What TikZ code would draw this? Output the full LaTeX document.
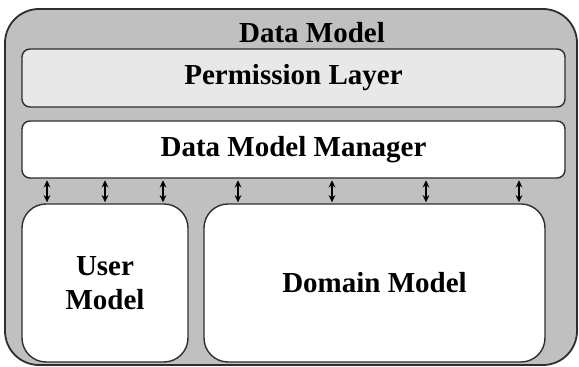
\documentclass[tikz,border=0pt]{standalone}
\usepackage{fontspec}
\setmainfont{Liberation Serif}
\usetikzlibrary{arrows.meta}
\definecolor{outergray}{HTML}{C0C0C0}
\definecolor{layergray}{HTML}{E8E8E8}
\definecolor{edgegray}{HTML}{2E2E2E}
\tikzset{
  box/.style={draw=edgegray,line width=0.7pt,fill=white,inner sep=0pt,align=center,
    font=\fontsize{14.5}{17}\selectfont\bfseries},
  link/.style={{Stealth[length=3.6pt,width=3.4pt]}-{Stealth[length=3.6pt,width=3.4pt]},line width=0.75pt,black}
}
\begin{document}
\begin{tikzpicture}[x=0.5pt,y=-0.5pt]
  \useasboundingbox (0,0) rectangle (579,367);
  % outer frame
  \node[box,fill=outergray,line width=0.9pt,rounded corners=17pt,minimum width=286pt,minimum height=178pt] (datamodel) at (291,187) {};
  \node[font=\fontsize{14.5}{17}\selectfont\bfseries] (title) at (312,33) {Data Model};
  % layers
  \node[box,fill=layergray,rounded corners=4pt,minimum width=271.5pt,minimum height=29pt] (permlayer) at (293.5,78) {Permission Layer};
  \node[box,rounded corners=4pt,minimum width=271.5pt,minimum height=28.5pt] (manager) at (293.5,149.5) {Data Model Manager};
  \node[box,rounded corners=12pt,minimum width=83pt,minimum height=79pt] (usermodel) at (105,283) {User\\Model};
  \node[box,rounded corners=12pt,minimum width=170.5pt,minimum height=79pt] (domainmodel) at (374.5,283) {Domain Model};
  % links between manager and models
  \foreach \x in {47,105,163} {
    \coordinate (linkpos) at (\x,0);
    \draw[link] ([yshift=-0.8pt]manager.south -| linkpos) -- ([yshift=0.5pt]usermodel.north -| linkpos);
  }
  \foreach \x in {238,332,426,519} {
    \coordinate (linkpos) at (\x,0);
    \draw[link] ([yshift=-0.8pt]manager.south -| linkpos) -- ([yshift=0.5pt]domainmodel.north -| linkpos);
  }
\end{tikzpicture}
\end{document}
